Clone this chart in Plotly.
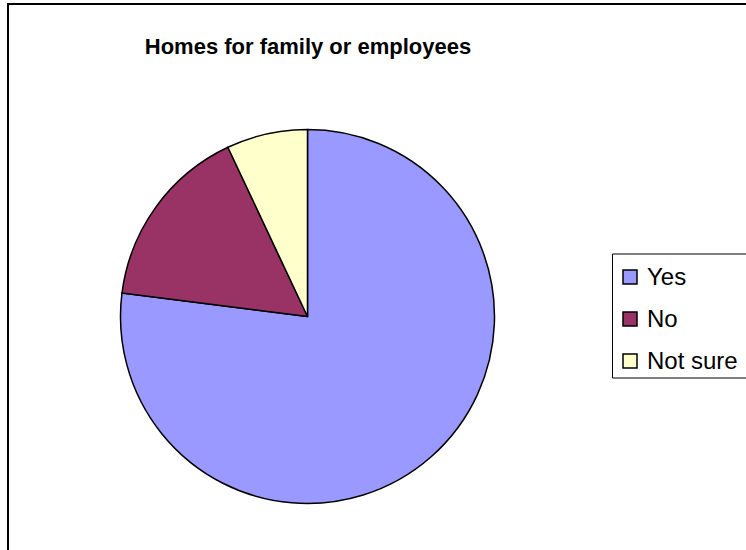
import plotly.graph_objects as go

# Survey answers: "Homes for family or employees"
labels = ["Yes", "No", "Not sure"]
values = [77, 16, 7]
colors = ["#9999FF", "#993366", "#FFFFCC"]
title_text = "Homes for family or employees"

W, H = 746, 550


def px_x(x):
    return x / W


def px_y(y):
    return 1 - y / H


# Pie placement (pixel centre and radius)
cx, cy, r = 307.5, 316.5, 187

fig = go.Figure(
    go.Pie(
        labels=labels,
        values=values,
        sort=False,
        direction="clockwise",
        rotation=0,
        marker=dict(colors=colors, line=dict(color="#000000", width=1.5)),
        textinfo="none",
        hoverinfo="label+value+percent",
        showlegend=False,
        domain=dict(x=[px_x(cx - r), px_x(cx + r)], y=[px_y(cy + r), px_y(cy - r)]),
    )
)

shapes = []
annotations = []

# Outer chart frame
shapes.append(dict(type="rect", xref="paper", yref="paper",
                   x0=px_x(8), x1=1.05, y0=-0.05, y1=px_y(4),
                   line=dict(color="#000000", width=2), fillcolor="rgba(0,0,0,0)", layer="above"))

# Legend frame
shapes.append(dict(type="rect", xref="paper", yref="paper",
                   x0=px_x(612.5), x1=1.05, y0=px_y(378), y1=px_y(254),
                   line=dict(color="#000000", width=1), fillcolor="rgba(0,0,0,0)", layer="above"))

# Legend entries
sq = 14
for i, (lab, col) in enumerate(zip(labels, colors)):
    yc = 277 + 42 * i
    shapes.append(dict(type="rect", xref="paper", yref="paper",
                       x0=px_x(623), x1=px_x(623 + sq),
                       y0=px_y(yc + sq / 2), y1=px_y(yc - sq / 2),
                       line=dict(color="#000000", width=1.5), fillcolor=col, layer="above"))
    annotations.append(dict(xref="paper", yref="paper", x=px_x(645), y=px_y(yc - 1),
                            xanchor="left", yanchor="middle", showarrow=False,
                            text=lab,
                            font=dict(family="Liberation Sans, Arial, sans-serif", size=24, color="#000000")))

fig.update_layout(
    width=W, height=H,
    margin=dict(l=0, r=0, t=0, b=0),
    paper_bgcolor="#FFFFFF",
    plot_bgcolor="#FFFFFF",
    title=dict(text="<b>" + title_text + "</b>",
               x=px_x(308), xanchor="center", xref="paper",
               y=px_y(46), yanchor="middle", yref="paper",
               font=dict(family="Liberation Sans, Arial, sans-serif",
                         size=22, color="#000000")),
    shapes=shapes,
    annotations=annotations,
)

fig.write_html("out.html")
